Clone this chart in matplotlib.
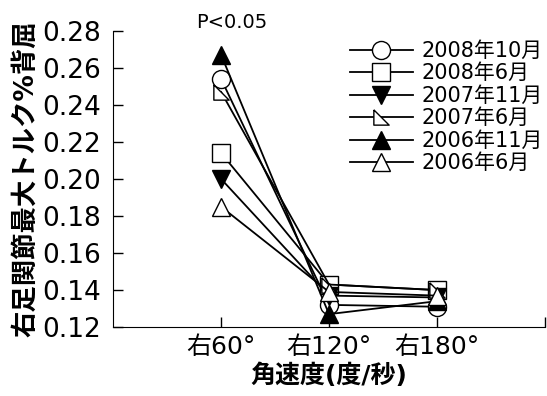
import matplotlib
matplotlib.use('Agg')
import matplotlib.pyplot as plt

plt.rcParams['font.family'] = ['DejaVu Sans', 'Noto Sans CJK JP']

# x categories
speeds = ['右60°', '右120°', '右180°']

# series
labels = ['2008年10月', '2008年6月', '2007年11月', '2007年6月', '2006年11月', '2006年6月']
oct08 = [0.254, 0.132, 0.131]
jun08 = [0.214, 0.143, 0.140]
nov07 = [0.200, 0.137, 0.136]
jun07 = [0.247, 0.143, 0.140]
nov06 = [0.267, 0.127, 0.134]
jun06 = [0.185, 0.139, 0.137]

yticks = [0.12, 0.14, 0.16, 0.18, 0.20, 0.22, 0.24, 0.26, 0.28]

# right-angle triangle marker
rtri = [(-1, 1), (-1, -1), (1, -1), (-1, 1)]

series = [oct08, jun08, nov07, jun07, nov06, jun06]
styles = [('o', 'white'), ('s', 'white'), ('v', 'black'),
          (rtri, 'white'), ('^', 'black'), ('^', 'white')]

fig = plt.figure(figsize=(5.47, 3.96), dpi=100)
ax = fig.add_axes([0.207, 0.174, 0.789, 0.748])

x = [1, 2, 3]
for vals, lab, (mk, fc) in zip(series, labels, styles):
    ms = 13 if mk is not rtri else 11
    ax.plot(x, vals, color='black', lw=1.3, marker=mk, markersize=ms,
            markerfacecolor=fc, markeredgecolor='black', markeredgewidth=1.0,
            label=lab, clip_on=False)

ax.set_xlim(0, 4)
ax.set_ylim(0.12, 0.28)
ax.set_xticks([1, 2, 3, 4])
ax.set_xticklabels(speeds + [''], fontsize=18)
ax.set_yticks(yticks)
ax.set_yticklabels(['%.2f' % v for v in yticks], fontsize=19)
ax.tick_params(axis='both', direction='in', length=7, width=1.0)
ax.tick_params(axis='y', pad=9)
ax.tick_params(axis='x', pad=6)
ax.spines['top'].set_visible(False)
ax.spines['right'].set_visible(False)

ax.set_xlabel('角速度(度/秒)', fontsize=18, fontweight='bold', labelpad=3)
ax.set_ylabel('右足関節最大トルク%背屈', fontsize=19, fontweight='bold', labelpad=2)

ax.text(1.1, 0.2848, 'P<0.05', fontsize=14, ha='center', va='center')

ax.legend(loc='upper left', bbox_to_anchor=(0.625, 0.918), bbox_transform=fig.transFigure,
          frameon=False, fontsize=15, handlelength=3.0, handletextpad=0.4,
          labelspacing=0.12, borderaxespad=0)

fig.savefig('out.png', dpi=100)
